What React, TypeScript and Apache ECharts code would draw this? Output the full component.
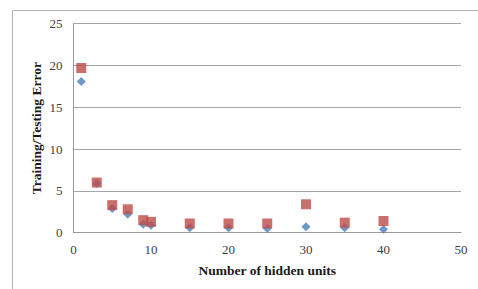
import React, { useEffect, useRef } from "react";
import * as echarts from "echarts";

const hiddenUnits = [1, 3, 5, 7, 9, 10, 15, 20, 25, 30, 35, 40];
const trainingError = [18.1, 5.9, 2.9, 2.2, 1.0, 0.9, 0.6, 0.6, 0.5, 0.7, 0.6, 0.4];
const testingError = [19.7, 6.0, 3.3, 2.8, 1.5, 1.3, 1.1, 1.1, 1.1, 3.4, 1.2, 1.4];
const yTicks = [0, 5, 10, 15, 20, 25];
const xTicks = [0, 10, 20, 30, 40, 50];

export default function App() {
  const ref = useRef<HTMLDivElement>(null);
  useEffect(() => {
    if (!ref.current) return;
    const chart = echarts.init(ref.current, null, { renderer: "svg" });
    const font = "'Liberation Serif', 'Times New Roman', serif";
    chart.setOption({
      animation: false,
      backgroundColor: "#ffffff",
      graphic: [
        {
          type: "rect",
          shape: { x: 12.5, y: 10.5, width: 520, height: 320 },
          style: { fill: "none", stroke: "#b4b4b4", lineWidth: 1 },
          silent: true,
          z: -1,
        },
      ],
      grid: { left: 73.5, top: 23.7, right: 17, bottom: 56.3 },
      xAxis: {
        type: "value",
        min: xTicks[0],
        max: xTicks[xTicks.length - 1],
        interval: 10,
        name: "Number of hidden units",
        nameLocation: "middle",
        nameGap: 31,
        nameMoveOverlap: false,
        nameTextStyle: { fontFamily: font, fontWeight: "bold", fontSize: 13.5, color: "#1a1a1a" },
        axisLine: { show: true, lineStyle: { color: "#9a9a9a", width: 1 } },
        axisTick: { show: false },
        splitLine: { show: false },
        axisLabel: { fontFamily: font, fontSize: 13, color: "#404040", margin: 10 },
      },
      yAxis: {
        type: "value",
        min: yTicks[0],
        max: yTicks[yTicks.length - 1],
        interval: 5,
        name: "Training/Testing Error",
        nameLocation: "middle",
        nameGap: 30,
        nameMoveOverlap: false,
        nameTextStyle: { fontFamily: font, fontWeight: "bold", fontSize: 13.5, color: "#1a1a1a" },
        axisLine: { show: true, lineStyle: { color: "#9a9a9a", width: 1 } },
        axisTick: { show: false },
        splitLine: { show: true, lineStyle: { color: "#a6a6a6", width: 1 } },
        axisLabel: { fontFamily: font, fontSize: 13, color: "#404040", margin: 11 },
      },
      series: [
        {
          name: "Training",
          type: "scatter",
          symbol: "diamond",
          symbolSize: 9,
          itemStyle: { color: "#4A7EBB" },
          data: hiddenUnits.map((x, i) => [x, trainingError[i]]),
          z: 2,
        },
        {
          name: "Testing",
          type: "scatter",
          symbol: "rect",
          symbolSize: 10,
          itemStyle: { color: "#BE4B48" },
          data: hiddenUnits.map((x, i) => [x, testingError[i]]),
          z: 3,
        },
      ],
    });
    return () => chart.dispose();
  }, []);
  return <div ref={ref} style={{ width: 478, height: 289, position: "absolute", left: 0, top: 0 }} />;
}
